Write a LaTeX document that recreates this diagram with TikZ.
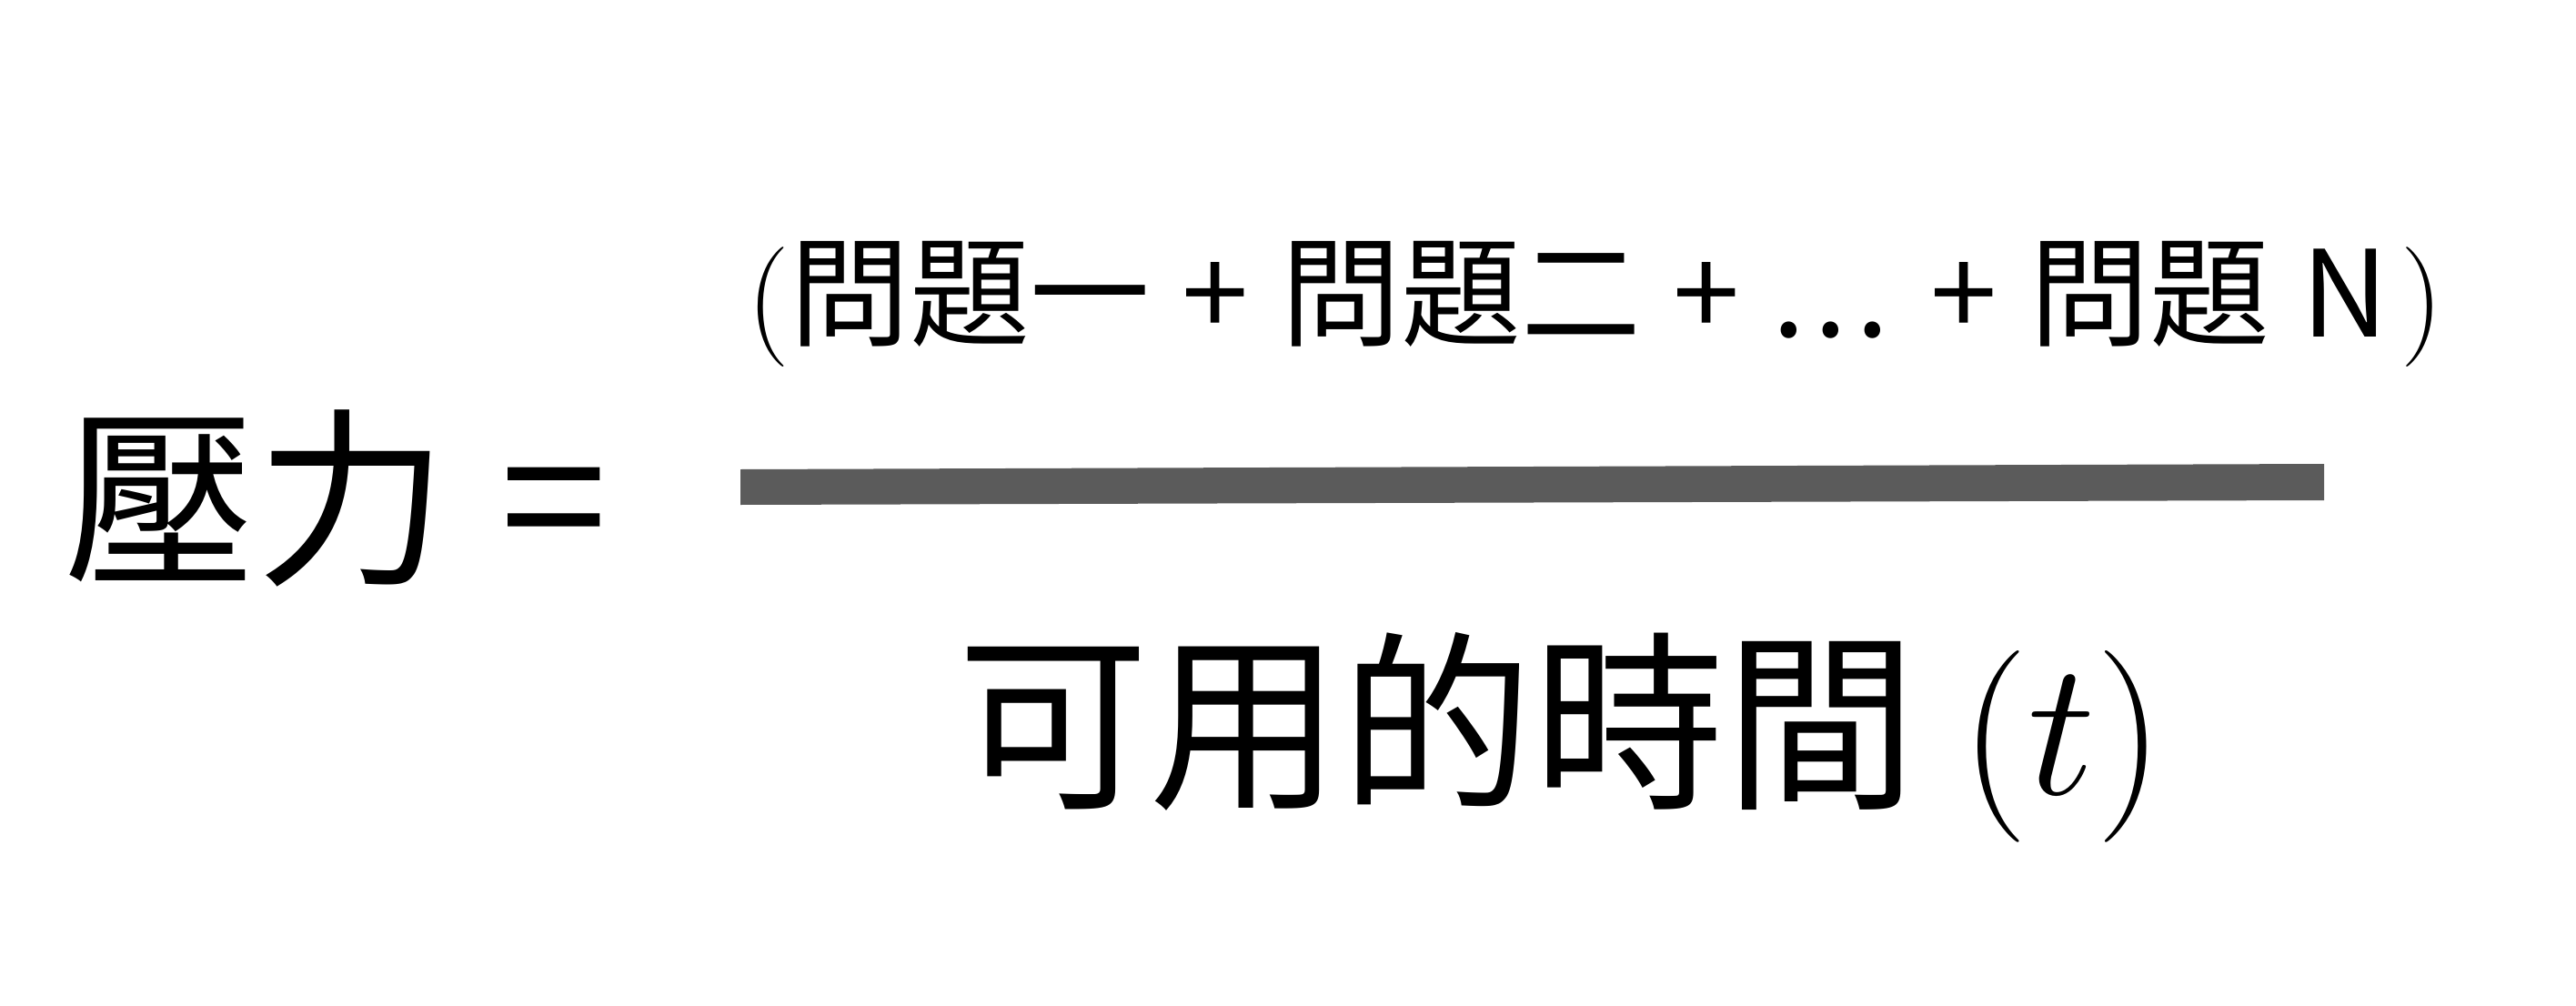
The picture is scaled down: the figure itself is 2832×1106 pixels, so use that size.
\documentclass[tikz,border=0pt]{standalone}
\usepackage{fix-cm}
\usepackage{fontspec}
\setmainfont{Noto Sans CJK TC}
\usetikzlibrary{positioning}
\definecolor{barGray}{HTML}{5B5B5B}

\begin{document}
\begin{tikzpicture}[x=0.01cm, y=-0.01cm,
    big/.style={font=\fontsize{60}{72}\selectfont, inner sep=0pt},
    small/.style={font={\fontsize{37.5}{45}\selectfont\spaceskip=0.27em\relax}, inner sep=0pt}]
  \useasboundingbox (0,0) rectangle (2832,1106);
  \node[big] (lhs) at (281,548) {壓力};
  \node[big] (eq) at (609,569) {=};
  \node[small] (num) at (1754,334) {$($問題一 + 問題二 + .\kern0.07em.\kern0.07em. + 問題 N\kern0.1em$)$};
  % fraction bar, slightly tilted
  \fill[barGray] (814,516) -- (2555,510) -- (2555,550) -- (814,555) -- cycle;
  \node[big] (den) at (1716,811) {可用的時間 $(t)$};
\end{tikzpicture}
\end{document}
